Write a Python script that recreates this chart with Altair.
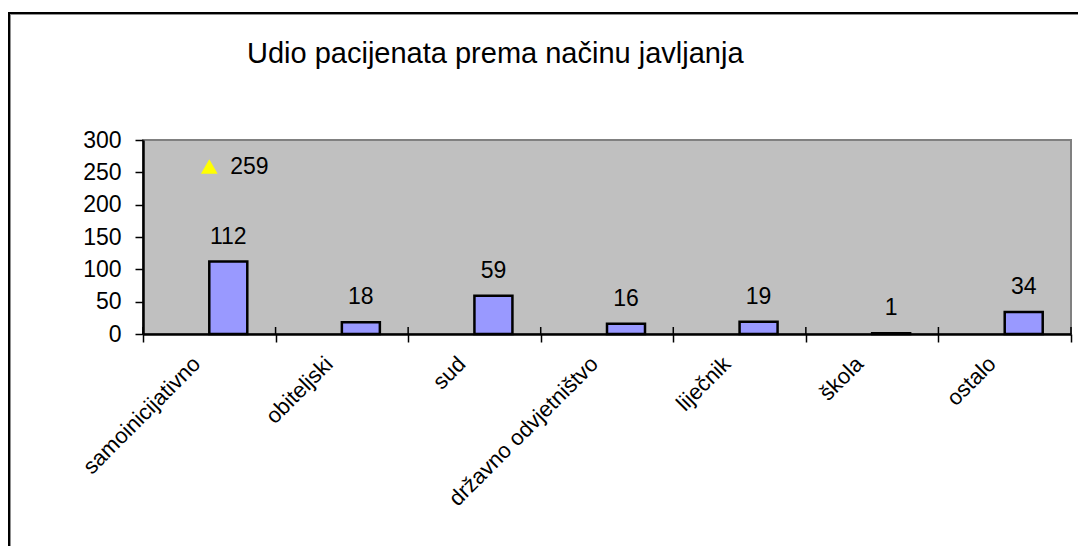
import altair as alt
import pandas as pd

categories = ["samoinicijativno", "obiteljski", "sud", "državno odvjetništvo",
              "liječnik", "škola", "ostalo"]
counts = [112, 18, 59, 16, 19, 1, 34]
total_categories = ["samoinicijativno"]
total_values = [259]
title_text = "Udio pacijenata prema načinu javljanja"
y_ticks = [0, 50, 100, 150, 200, 250, 300]

W, H = 928, 194
FONT = "Liberation Sans"

df = pd.DataFrame({"cat": categories, "val": counts})
df_total = pd.DataFrame({"cat": total_categories, "val": total_values})
one = pd.DataFrame({"a": [0]})

x_axis = alt.Axis(title=None, labelAngle=-45, labelAlign="right", labelBaseline="middle",
                  labelFontSize=22, labelPadding=18, labelOffset=-13, labelFont=FONT,
                  labelColor="black", labelLimit=500, labelOverlap=False,
                  tickBand="extent", tickSize=8, tickColor="black",
                  tickWidth=1.5, domainColor="black", domainWidth=2.5, zindex=1)
x_scale = alt.Scale(paddingInner=0, paddingOuter=0)
y_axis = alt.Axis(title=None, values=y_ticks, grid=False, tickSize=8, tickColor="black",
                  tickWidth=1.5, domainColor="black", domainWidth=2.5, labelFontSize=23,
                  labelFont=FONT, labelColor="black", labelPadding=14,
                  labelOverlap=False, zindex=1)
y_scale = alt.Scale(domain=[0, 300])


def xe(**kw):
    return alt.X("cat:N", sort=categories, scale=x_scale, axis=x_axis, **kw)


def ye():
    return alt.Y("val:Q", scale=y_scale, axis=y_axis)


base = alt.Chart(df)
bars = base.mark_bar(width=38, xOffset=19, color="#9999FF", stroke="black",
                     strokeWidth=2.5).encode(x=xe(), y=ye())
bar_labels = base.mark_text(xOffset=19, dy=-18, baseline="alphabetic", fontSize=23,
                            font=FONT, color="black").encode(
    x=xe(), y=ye(), text="val:Q")

inner_ticks = base.mark_rule(color="black", strokeWidth=1.5).encode(
    x=xe(bandPosition=0), y=alt.value(H - 7), y2=alt.value(H))
inner_tick_end = alt.Chart(one).mark_rule(color="black", strokeWidth=1.5).encode(
    x=alt.value(W), y=alt.value(H - 7), y2=alt.value(H))

tot = alt.Chart(df_total)
tri = tot.mark_point(shape="triangle-up", filled=True, color="#FFFF00", opacity=1,
                     size=280).encode(x=xe(), y=ye())
tri_label = tot.mark_text(align="left", baseline="middle", dx=21, fontSize=23,
                          font=FONT, color="black").encode(
    x=xe(), y=ye(), text="val:Q")

title = alt.Chart(one).mark_text(text=title_text, align="left", baseline="alphabetic",
                                 fontSize=29, font=FONT, color="black").encode(
    x=alt.value(104), y=alt.value(-77))

frame_top = alt.Chart(one).mark_rule(color="black", strokeWidth=2).encode(
    x=alt.value(-135), x2=alt.value(W + 10), y=alt.value(-127))
frame_top_sh = alt.Chart(one).mark_rule(color="#909090", strokeWidth=1).encode(
    x=alt.value(-134), x2=alt.value(W + 10), y=alt.value(-125.5))
frame_left = alt.Chart(one).mark_rule(color="black", strokeWidth=2).encode(
    x=alt.value(-134), y=alt.value(-128), y2=alt.value(H + 260))
frame_left_sh = alt.Chart(one).mark_rule(color="#909090", strokeWidth=1).encode(
    x=alt.value(-132.5), y=alt.value(-126), y2=alt.value(H + 260))

chart = alt.layer(
    bars, inner_ticks, inner_tick_end, bar_labels, tri, tri_label, title,
    frame_top, frame_top_sh, frame_left, frame_left_sh,
).properties(
    width=W, height=H,
    autosize=alt.AutoSizeParams(type="none"),
    padding={"left": 135, "top": 132, "right": 7, "bottom": 212},
).configure(
    background="white", font=FONT,
    view=alt.ViewConfig(fill="#C0C0C0", stroke="#808080", strokeWidth=2),
)

chart.save("out.html", embed_options={"renderer": "svg", "actions": False})
